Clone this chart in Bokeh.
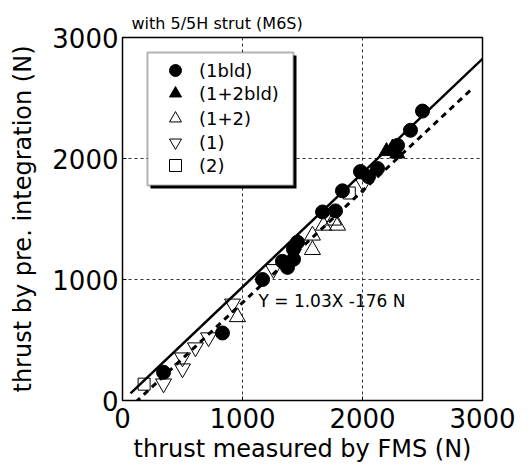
from bokeh.plotting import figure
from bokeh.models import Legend, LegendItem, Label, BoxAnnotation, Range1d, FixedTicker
from bokeh.embed import file_html
from bokeh.resources import INLINE

# --- data ---
bld1_x = [342, 833, 1167, 1333, 1375, 1425, 1425, 1458, 1667, 1775, 1833, 1983, 2050, 2125, 2292, 2400, 2500]
bld1_y = [233, 558, 1000, 1150, 1100, 1167, 1250, 1308, 1558, 1567, 1733, 1892, 1850, 1917, 2108, 2233, 2392]

bld12_x = [2200, 2250, 2290]
bld12_y = [2060, 2090, 2040]

s12_x = [958, 1583, 1583, 1675, 1758, 1792]
s12_y = [690, 1245, 1364, 1446, 1488, 1446]

s1_x = [342, 500, 500, 608, 717, 917, 1258, 2008]
s1_y = [140, 264, 355, 438, 521, 800, 1085, 1795]

s2_x = [180, 1890]
s2_y = [135, 1715]

series_labels = ["(1bld)", "(1+2bld)", "(1+2)", "(1)", "(2)"]

# fit lines: slope, intercept, x-extent
solid_fit = (0.943, -5.0)
solid_x = [67, 3000]
dash_fit = (0.924, -115.5)
dash_x = [110, 2917]

x_ticks = [0, 1000, 2000, 3000]
y_ticks = [0, 1000, 2000, 3000]

FONT = "DejaVu Sans"

p = figure(width=528, height=468, output_backend="svg", toolbar_location=None,
           x_range=Range1d(0, 3000), y_range=Range1d(0, 3000),
           min_border_left=122, min_border_right=46, min_border_top=37, min_border_bottom=68,
           title="with 5/5H strut (M6S)")
p.title.text_font = FONT
p.title.text_font_size = "16px"
p.title.text_font_style = "normal"
p.title.text_color = "black"
p.title.offset = 9
p.title.standoff = 9

p.outline_line_color = "black"
p.outline_line_width = 1.5

for ax in (p.xaxis[0], p.yaxis[0]):
    ax.axis_line_color = None
    ax.major_tick_in = 4
    ax.major_tick_out = 0
    ax.major_tick_line_color = "black"
    ax.minor_tick_line_color = None
    ax.major_label_text_font = FONT
    ax.major_label_text_font_size = "26px"
    ax.axis_label_text_font = FONT
    ax.axis_label_text_font_size = "24px"
    ax.axis_label_text_font_style = "normal"
    ax.major_label_text_color = "black"
    ax.axis_label_text_color = "black"

p.xaxis[0].ticker = FixedTicker(ticks=x_ticks)
p.yaxis[0].ticker = FixedTicker(ticks=y_ticks)
p.xaxis.axis_label = "thrust measured by FMS (N)"
p.yaxis.axis_label = "thrust by pre. integration (N)"
p.xaxis.major_label_standoff = 7
p.xaxis.axis_label_standoff = 4
p.yaxis.major_label_standoff = 4
p.yaxis.axis_label_standoff = 12

p.grid.grid_line_color = "#333333"
p.grid.grid_line_dash = "3 3"
p.grid.grid_line_width = 1
p.xgrid.ticker = FixedTicker(ticks=[1000, 2000])
p.ygrid.ticker = FixedTicker(ticks=[1000, 2000])

# open markers
r_s12 = p.scatter(s12_x, s12_y, marker="triangle", size=16, fill_color=None, line_color="black", line_width=1)
r_s1 = p.scatter(s1_x, s1_y, marker="inverted_triangle", size=16, fill_color=None, line_color="black", line_width=1)
r_s2 = p.scatter(s2_x, s2_y, marker="square", size=12, fill_color=None, line_color="black", line_width=1)

# fit lines
p.line(solid_x, [solid_fit[0] * x + solid_fit[1] for x in solid_x], line_color="black", line_width=2.5)
p.line(dash_x, [dash_fit[0] * x + dash_fit[1] for x in dash_x], line_color="black", line_width=3, line_dash="6 5")

# filled markers
r_b1 = p.scatter(bld1_x, bld1_y, marker="circle", size=14, fill_color="black", line_color="black")
r_b12 = p.scatter(bld12_x, bld12_y, marker="triangle", size=15, fill_color="black", line_color="black")

p.add_layout(Label(x=1133, y=826, text="Y = 1.03X -176 N", text_font=FONT, text_font_size="17px",
                   text_color="black", text_baseline="middle", text_align="left"))

# legend shadow and box
p.add_layout(BoxAnnotation(left=233, right=1450, top=2851, bottom=1752,
                           fill_color="black", fill_alpha=1, line_color=None))
p.add_layout(BoxAnnotation(left=208, right=1425, top=2876, bottom=1777,
                           fill_color="white", fill_alpha=1, line_color="black", line_width=2))

# one borderless legend per row, so the rows can sit closer than the glyph height
row_bottoms = [314, 291, 266, 242, 219]
for lab, rend, yb in zip(series_labels, [r_b1, r_b12, r_s12, r_s1, r_s2], row_bottoms):
    lg = Legend(items=[LegendItem(label=lab, renderers=[rend])], location=(38, yb))
    lg.label_text_font = FONT
    lg.label_text_font_size = "18px"
    lg.label_text_color = "black"
    lg.glyph_width = 30
    lg.glyph_height = 32
    lg.label_height = 20
    lg.label_standoff = 9
    lg.padding = 0
    lg.margin = 0
    lg.border_line_color = None
    lg.background_fill_alpha = 0
    p.add_layout(lg)

open("out.html", "w").write(file_html(p, INLINE))
